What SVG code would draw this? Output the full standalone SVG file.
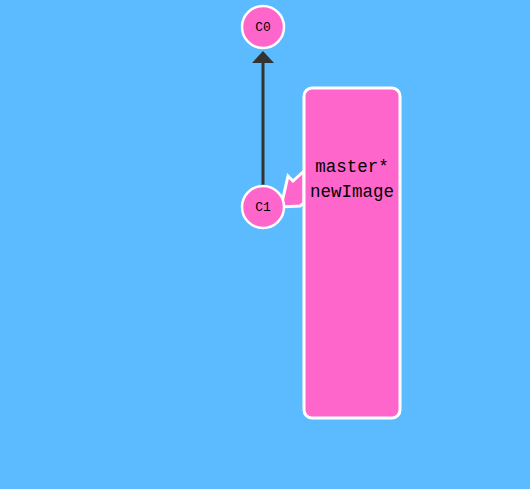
<svg xmlns="http://www.w3.org/2000/svg" width="530" height="489" viewBox="0 0 530 489">
<style>
.commit{fill:#ff66cc;stroke:#fff;stroke-width:2.5}
.ctext{font-family:"Liberation Mono",monospace;font-size:13px;fill:#000;text-anchor:middle}
.btext{font-family:"Liberation Mono",monospace;font-size:17.5px;fill:#000;text-anchor:middle}
</style>
<rect x="0" y="0" width="530" height="489" fill="#5cbafe"/>
<g id="connectors">
<line x1="263" y1="186" x2="263" y2="62" stroke="#333" stroke-width="3"/>
<polygon points="263,51 274,63 252,63" fill="#333"/>
</g>
<g id="branch-master">
<polygon points="304,171 293,181 288,176 281,207 300,206 304,203" fill="#ff66cc" stroke="#fff" stroke-width="3" stroke-linejoin="miter"/>
<rect x="304" y="88" width="96" height="330" rx="8" ry="8" fill="#ff66cc" stroke="#fff" stroke-width="3"/>
<text class="btext" x="352" y="172">master*</text>
<text class="btext" x="352" y="197">newImage</text>
</g>
<g id="C0">
<circle class="commit" cx="263" cy="27" r="21"/>
<text class="ctext" x="263" y="31">C0</text>
</g>
<g id="C1">
<circle class="commit" cx="263" cy="207" r="21"/>
<text class="ctext" x="263" y="211">C1</text>
</g>
</svg>
